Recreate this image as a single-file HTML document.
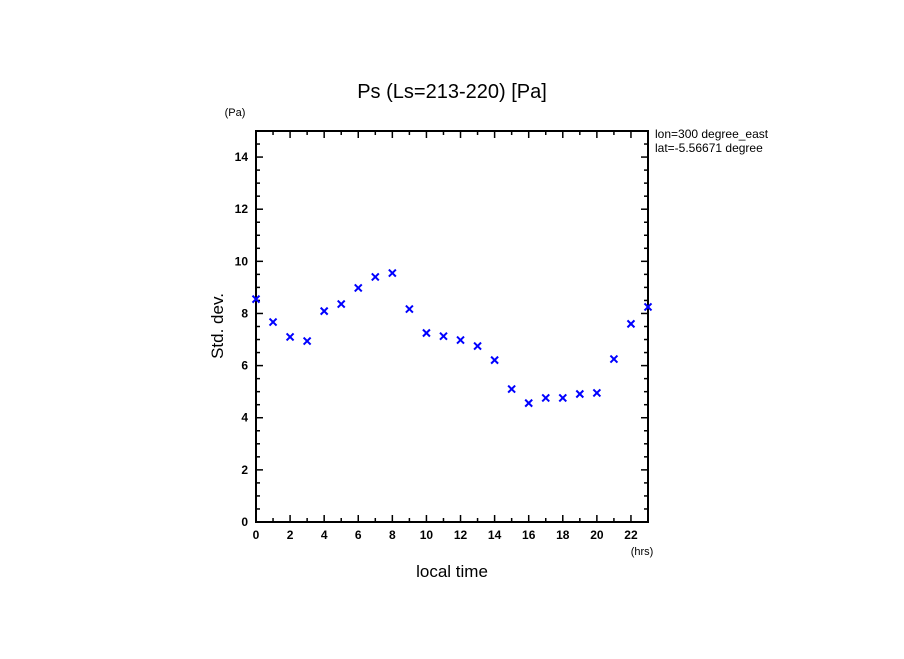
<!DOCTYPE html>
<html><head><meta charset="utf-8"><style>
body{margin:0;background:#fff;}
svg text{font-family:"Liberation Sans",sans-serif;}
</style></head><body>
<svg id="chart" width="904" height="654" xmlns="http://www.w3.org/2000/svg">
<defs><clipPath id="annclip"><rect x="650" y="120" width="128" height="40"/></clipPath></defs>
<text x="452" y="98" text-anchor="middle" font-size="20">Ps (Ls=213-220) [Pa]</text>
<text x="235" y="116" text-anchor="middle" font-size="11">(Pa)</text>
<g clip-path="url(#annclip)">
<text x="655" y="138" font-size="12">lon=300 degree_east</text>
<text x="655" y="152" font-size="12">lat=-5.56671 degree</text>
</g>
<text x="642" y="555" text-anchor="middle" font-size="11">(hrs)</text>
<text x="452" y="577" text-anchor="middle" font-size="17">local time</text>
<text x="223" y="326" text-anchor="middle" font-size="17" transform="rotate(-90 223 326)">Std. dev.</text>
<g id="axes"></g><g id="marks"></g>
</svg>
<script>
const hours=[0,1,2,3,4,5,6,7,8,9,10,11,12,13,14,15,16,17,18,19,20,21,22,23];
const stdDev=[8.55,7.67,7.1,6.94,8.09,8.36,8.98,9.4,9.55,8.17,7.25,7.13,6.98,6.75,6.21,5.1,4.56,4.76,4.76,4.91,4.95,6.25,7.6,8.25];
const xTicks=[0,2,4,6,8,10,12,14,16,18,20,22];
const yTicks=[0,2,4,6,8,10,12,14];
const X0=256,X1=648,Y0=522,Y1=131;
const xs=h=>X0+h*(X1-X0)/23;
const ys=v=>Y0-v*(Y0-Y1)/15;
const NS="http://www.w3.org/2000/svg";
const ax=document.getElementById('axes'),mk=document.getElementById('marks');
function el(t,a,p){const e=document.createElementNS(NS,t);for(const k in a)e.setAttribute(k,a[k]);p.appendChild(e);return e;}
const frame=el('rect',{x:X0,y:Y1,width:X1-X0,height:Y0-Y1,fill:'none',stroke:'#000','stroke-width':2},ax);


for(let h=0;h<=23;h++){const x=xs(h),L=h%2==0?7:4;
 el('line',{x1:x,y1:Y0,x2:x,y2:Y0-L,stroke:'#000','stroke-width':1.5},ax);
 el('line',{x1:x,y1:Y1,x2:x,y2:Y1+L,stroke:'#000','stroke-width':1.5},ax);}
for(let v=0;v<=15;v+=0.5){const y=ys(v),L=v%2==0?7:4;
 el('line',{x1:X0,y1:y,x2:X0+L,y2:y,stroke:'#000','stroke-width':1.5},ax);
 el('line',{x1:X1,y1:y,x2:X1-L,y2:y,stroke:'#000','stroke-width':1.5},ax);}
xTicks.forEach(t=>{const e=el('text',{x:xs(t),y:Y0+17,'text-anchor':'middle','font-size':12,'font-weight':'bold'},ax);e.textContent=t;
 
 });
yTicks.forEach(t=>{const e=el('text',{x:X0-8,y:ys(t)+4,'text-anchor':'end','font-size':12,'font-weight':'bold'},ax);e.textContent=t;
 
 });
hours.forEach((h,i)=>{const x=xs(h),y=ys(stdDev[i]),s=3.5;
 const g=el('g',{stroke:'#0000ff','stroke-width':2},mk);
 
 
 el('line',{x1:x-s,y1:y-s,x2:x+s,y2:y+s},g);el('line',{x1:x-s,y1:y+s,x2:x+s,y2:y-s},g);});
</script>
</body></html>
